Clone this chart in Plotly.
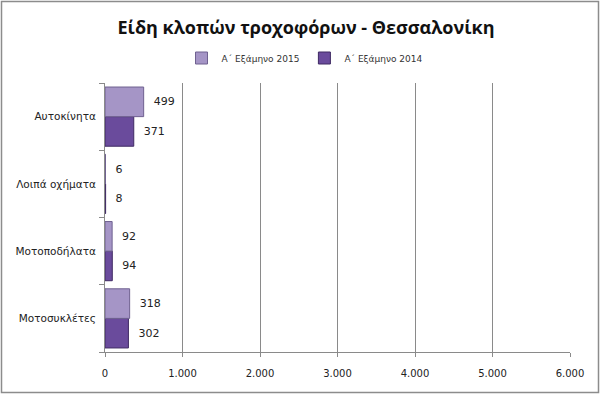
import plotly.graph_objects as go

categories = ["Αυτοκίνητα", "Λοιπά οχήματα", "Μοτοποδήλατα", "Μοτοσυκλέτες"]
values_2015 = [499, 6, 92, 318]
values_2014 = [371, 8, 94, 302]
series_names = ["Α΄ Εξάμηνο 2015", "Α΄ Εξάμηνο 2014"]
x_ticks = [0, 1000, 2000, 3000, 4000, 5000, 6000]

fig = go.Figure()
fig.add_trace(go.Bar(
    y=categories, x=values_2014, orientation="h", name=series_names[1],
    marker=dict(color="#6a4b9c", line=dict(color="#3f2a63", width=1)),
    text=[f"  {v}" for v in values_2014], textposition="outside", cliponaxis=False,
    textfont=dict(family="DejaVu Sans", size=11, color="#222"),
))
fig.add_trace(go.Bar(
    y=categories, x=values_2015, orientation="h", name=series_names[0],
    marker=dict(color="#a595c6", line=dict(color="#6f6190", width=1)),
    text=[f"  {v}" for v in values_2015], textposition="outside", cliponaxis=False,
    textfont=dict(family="DejaVu Sans", size=11, color="#222"),
))

L, R, T, B = 105, 30, 83, 42
W, H = 600, 394
pw, ph = W - L - R, H - T - B

fig.update_layout(
    width=W, height=H,
    margin=dict(l=L, r=R, t=T, b=B),
    paper_bgcolor="white", plot_bgcolor="white",
    barmode="group", bargap=0.12, bargroupgap=0,
    separators=",.",
    title=dict(text="<b>Είδη κλοπών τροχοφόρων - Θεσσαλονίκη</b>",
               x=306 / W, xanchor="center", y=1 - 28 / H, yanchor="middle",
               font=dict(family="Open Sans", size=18, color="#111")),
    legend=dict(orientation="h", x=(305 - L) / pw, xanchor="center",
                y=1.0 + (T - 58) / ph, yanchor="middle",
                traceorder="reversed", font=dict(family="DejaVu Sans", size=9, color="#333"),
                itemwidth=30, tracegroupgap=0),
    font=dict(family="DejaVu Sans", size=11, color="#222"),
    showlegend=True,
    shapes=[dict(type="rect", xref="paper", yref="paper",
                 x0=(1.5 - L) / pw, x1=(W - 1.5 - L) / pw,
                 y0=-(B - 1.5) / ph, y1=1 + (T - 1.5) / ph,
                 line=dict(color="#8c8c8c", width=1.5))],
)
fig.update_xaxes(range=[0, 6000], tickvals=x_ticks, tickformat=",d",
                 showgrid=True, gridcolor="#8a8a8a", gridwidth=1,
                 showline=True, linecolor="#8a8a8a", ticks="outside", ticklen=4,
                 tickcolor="#8a8a8a", zeroline=False, ticklabelstandoff=8,
                 tickfont=dict(family="DejaVu Sans", size=10, color="#222"))
fig.update_yaxes(categoryorder="array", categoryarray=categories[::-1],
                 showline=True, linecolor="#8a8a8a", ticks="outside", ticklen=5,
                 tickcolor="#8a8a8a", tickson="boundaries", showgrid=False,
                 ticklabelstandoff=6,
                 tickfont=dict(family="DejaVu Sans", size=10.5, color="#222"))

fig.write_html("out.html", config={"displayModeBar": False},
               post_script="document.body.style.margin='0';")
